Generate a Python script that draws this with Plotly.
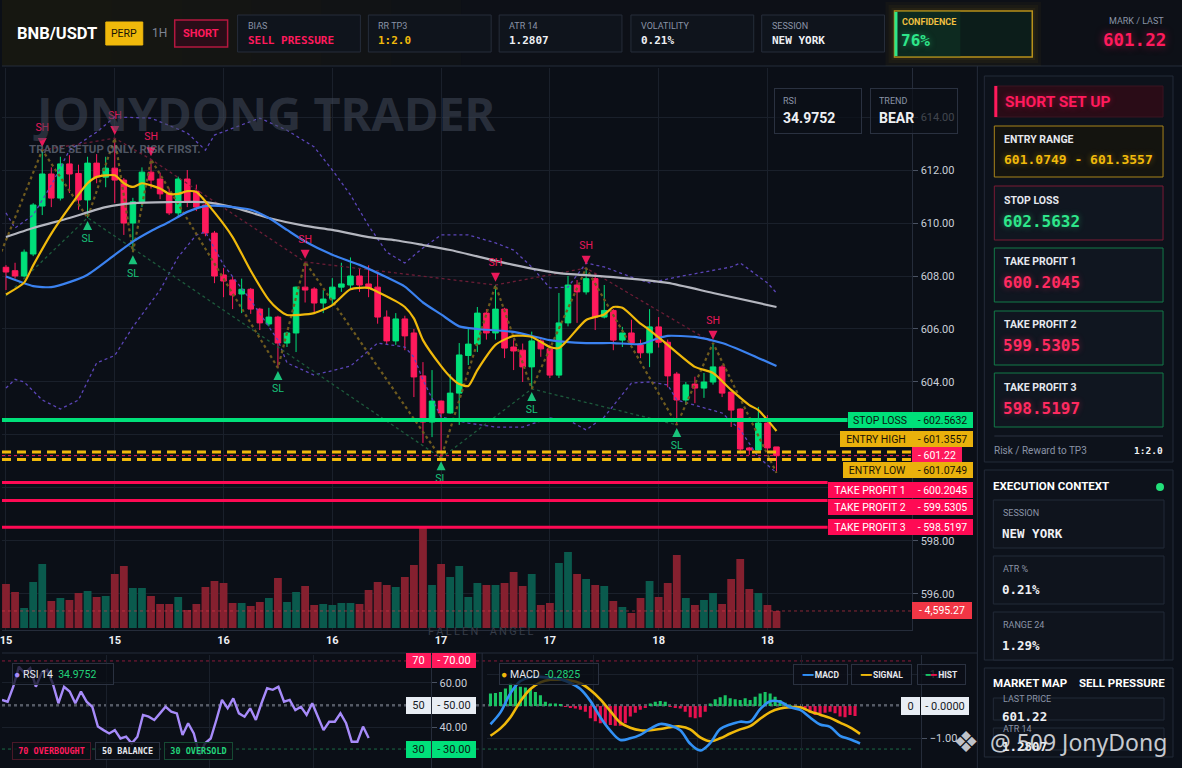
"""
BNB/USDT 1H short-setup dashboard, redrawn with Plotly.
Candles + MAs + bands + volume, RSI and MACD panels, setup side panel.
"""

import plotly.graph_objects as go

# -----------------------------------------------------------------------
# Canvas / colours
# -----------------------------------------------------------------------
W, H = 1182, 768
BG = "#0b0f17"
EDGE = "#252c3a"
GRID = "#1a202b"
TXT = "#c9ced8"
DIM = "#8a93a6"
GREEN = "#00e07a"
RED = "#ff1a5c"
GOLD = "#f0b90b"
SANS = "Roboto"
MONO = "DejaVu Sans Mono"
NONE = "rgba(0,0,0,0)"

# -----------------------------------------------------------------------
# Price data (1H bars, index 0 = first visible bar)
# -----------------------------------------------------------------------
candle_idx = list(range(86))
opens = [608.33, 608.2, 608.0, 608.83, 610.64, 611.85, 610.94, 612.23, 611.87, 610.87,
         612.26, 611.73, 612.07, 611.62, 610.0, 610.8, 611.92, 611.66, 611.1, 610.38,
         611.66, 611.2, 610.68, 609.62, 608.04, 607.85, 607.32, 607.5, 606.75, 606.19,
         606.45, 605.47, 605.85, 607.58, 607.51, 606.98, 607.13, 607.58, 607.66, 608.0,
         607.7, 607.58, 606.45, 605.55, 606.38, 605.85, 604.23, 602.49, 603.28, 602.83,
         603.58, 605.0, 605.43, 606.6, 605.85, 606.75, 605.32, 605.2, 604.57, 605.55,
         605.25, 604.26, 606.23, 607.66, 607.4, 607.9, 606.45, 606.7, 605.58, 605.85,
         605.4, 605.1, 606.08, 605.5, 604.3, 603.32, 603.92, 603.77, 604.0, 604.57,
         603.62, 602.98, 601.51, 601.43, 602.45, 601.55]
highs = [608.41, 608.5, 609.0, 610.75, 612.75, 612.1, 612.5, 612.56, 612.2, 612.5,
         612.6, 612.5, 613.2, 611.7, 610.95, 612.1, 612.4, 611.9, 611.3, 611.75,
         612.0, 611.45, 610.8, 609.7, 608.3, 607.96, 607.9, 607.55, 606.8, 606.8,
         606.5, 605.9, 607.6, 608.53, 607.58, 607.47, 607.92, 608.5, 608.7, 608.3,
         608.4, 608.15, 606.7, 606.6, 606.5, 606.0, 604.75, 604.45, 603.3, 604.3,
         605.47, 606.04, 606.83, 606.75, 607.66, 606.8, 605.6, 605.45, 605.9, 605.7,
         605.4, 607.36, 608.0, 607.85, 608.3, 608.1, 607.66, 606.75, 606.08, 606.35,
         605.6, 606.75, 606.45, 605.6, 604.38, 604.0, 604.2, 604.34, 605.47, 604.64,
         603.62, 603.0, 601.55, 603.06, 602.75, 601.55]
lows = [607.47, 607.9, 607.95, 608.75, 610.3, 610.6, 610.85, 611.13, 610.5, 610.2,
        611.5, 611.35, 610.75, 609.55, 608.9, 610.6, 611.3, 610.9, 610.3, 610.27,
        610.6, 610.45, 609.5, 607.73, 607.2, 606.75, 606.6, 606.57, 605.96, 606.1,
        604.53, 605.32, 605.13, 607.0, 606.64, 606.6, 606.9, 607.4, 607.5, 607.4,
        607.2, 606.2, 605.4, 605.4, 605.2, 603.43, 601.7, 601.92, 601.13, 602.8,
        602.38, 604.64, 605.13, 605.6, 605.6, 604.9, 604.45, 604.0, 603.74, 604.95,
        604.15, 604.15, 606.1, 606.23, 607.3, 605.96, 606.4, 605.2, 605.32, 605.3,
        604.9, 604.56, 605.3, 603.8, 602.38, 603.13, 603.2, 603.4, 603.9, 603.43,
        602.3, 601.3, 601.25, 601.4, 601.4, 600.57]
closes = [608.15, 608.0, 608.9, 610.68, 611.85, 610.94, 612.23, 611.85, 610.87, 612.26,
          611.73, 612.07, 611.62, 610.0, 610.8, 611.92, 611.62, 611.1, 610.38, 611.66,
          610.79, 610.6, 609.62, 608.0, 607.81, 607.28, 607.5, 606.75, 606.23, 606.45,
          605.47, 605.85, 607.58, 607.47, 606.98, 607.13, 607.58, 607.7, 608.0, 607.66,
          607.55, 606.45, 605.55, 606.38, 605.74, 604.19, 602.49, 603.28, 602.83, 603.58,
          605.02, 605.43, 606.6, 605.85, 606.75, 605.28, 605.17, 604.57, 605.55, 605.25,
          604.26, 606.23, 607.66, 607.4, 607.9, 606.45, 606.7, 605.58, 605.85, 605.47,
          605.1, 606.08, 605.5, 604.23, 603.32, 603.89, 603.77, 604.0, 604.57, 603.58,
          602.94, 601.47, 601.43, 602.45, 601.51, 601.22]
volumes = [11880, 9720, 5400, 12420, 17280, 7290, 8100, 7560, 9450, 9990,
           8370, 8640, 14580, 16740, 10800, 10800, 8640, 6480, 6480, 8370,
           4860, 6480, 11070, 12690, 12150, 6750, 6750, 5940, 7020, 8100,
           13500, 7020, 9720, 11340, 6210, 6480, 6210, 6750, 6750, 6480,
           10260, 12420, 11610, 11070, 13770, 17010, 27270, 11610, 17280, 13770,
           16740, 8370, 12150, 11610, 11610, 12150, 15120, 11340, 14580, 6210,
           6750, 17550, 20520, 14580, 13230, 11610, 11340, 7290, 5670, 4050,
           8100, 12690, 8370, 12150, 19710, 8100, 6210, 7560, 9450, 6480,
           13230, 18630, 10530, 9450, 6210, 4595.27]

x_tick_idx = [0, 12, 24, 36, 48, 60, 72, 84]
x_tick_text = ["15", "15", "16", "16", "17", "17", "18", "18"]
price_ticks = [596, 598, 600, 602, 604, 606, 608, 610, 612, 614]

# moving averages
ema_fast_idx = [0, 2, 3, 5, 7, 9, 10, 12, 13, 14, 15, 17, 18, 19, 20, 21, 23, 25, 27, 29,
                30, 31, 34, 36, 38, 40, 41, 43, 44, 45, 46, 48, 49, 50, 51, 52, 54, 56, 58, 60,
                61, 62, 64, 66, 67, 68, 70, 71, 73, 76, 78, 80, 82, 83, 84, 85]
ema_fast_val = [607.3, 607.75, 608.4, 609.6, 610.6, 611.5, 611.74, 611.8, 611.5, 611.36,
                611.5, 611.3, 611.1, 611.1, 611.2, 611.17, 610.4, 609.47, 608.2, 607.1,
                606.75, 606.53, 606.6, 606.9, 607.5, 607.55, 607.4, 607.05, 606.83, 606.4,
                605.58, 604.6, 604.2, 603.92, 603.85, 604.45, 605.4, 605.74, 605.7, 605.32,
                605.28, 605.6, 606.34, 606.55, 606.83, 606.8, 606.2, 605.96, 605.4, 604.57,
                604.34, 603.7, 603.13, 602.94, 602.57, 602.15]
ma_mid_idx = [0, 3, 5, 7, 9, 12, 14, 16, 18, 20, 22, 24, 27, 29, 31, 33, 36, 39, 42, 44,
              46, 48, 50, 52, 56, 60, 64, 67, 70, 72, 73, 76, 79, 82, 85]
ma_mid_val = [607.98, 607.62, 607.58, 607.77, 608.05, 608.8, 609.3, 609.7, 610.04, 610.42,
              610.64, 610.64, 610.5, 610.19, 609.74, 609.3, 608.8, 608.42, 607.95, 607.6,
              607.0, 606.55, 606.1, 606.0, 605.89, 605.58, 605.47, 605.47, 605.43, 605.66,
              605.74, 605.7, 605.47, 605.06, 604.6]
ma_slow_idx = [0, 3, 7, 11, 14, 18, 22, 25, 29, 33, 36, 40, 43, 46, 49, 56, 61, 67, 73, 78, 85]
ma_slow_val = [609.47, 609.81, 610.19, 610.6, 610.75, 610.79, 610.79, 610.6, 610.19, 609.89,
               609.74, 609.47, 609.35, 609.17, 608.98, 608.42, 608.11, 607.96, 607.74, 607.36,
               606.83]
band_up_idx = [0, 1, 3, 5, 7, 10, 12, 16, 20, 22, 23, 28, 31, 34, 36, 38, 40, 42, 44, 46,
               48, 51, 54, 56, 58, 60, 62, 64, 66, 69, 71, 74, 77, 80, 81, 84, 85]
band_up_val = [610.38, 609.81, 610.3, 611.43, 612.75, 613.43, 614.0, 613.96, 613.4, 612.75,
               613.32, 613.96, 613.5, 612.87, 612.0, 611.06, 609.9, 608.9, 608.49, 609.06,
               609.55, 609.55, 609.25, 608.98, 608.34, 607.55, 607.58, 608.49, 608.34, 607.96,
               607.74, 607.96, 608.15, 608.34, 608.49, 607.74, 607.36]
band_lo_idx = [0, 1, 2, 4, 6, 8, 10, 12, 14, 17, 19, 21, 22, 24, 27, 30, 31, 34, 38, 41,
               44, 45, 46, 48, 51, 54, 57, 60, 62, 64, 66, 69, 71, 73, 74, 77, 79, 81, 83, 85]
band_lo_val = [603.77, 604.1, 604.0, 603.32, 602.98, 603.32, 604.72, 605.0, 606.08, 607.47,
               608.72, 609.55, 609.66, 608.42, 607.09, 605.58, 604.72, 604.26, 604.6, 605.47,
               605.32, 604.94, 604.08, 602.68, 602.45, 602.3, 602.3, 602.64, 602.57, 602.19,
               602.68, 603.96, 604.0, 603.89, 603.32, 603.02, 602.83, 602.19, 601.17, 600.57]

# swing structure
swing_high_idx = [4, 12, 16, 33, 54, 64, 78]
swing_low_idx = [9, 14, 30, 48, 58, 74]
zigzag_idx = [-1, 4, 9, 12, 14, 16, 30, 33, 48, 54, 58, 64, 74, 78, 85]
zigzag_val = [608.5, 612.75, 610.2, 613.2, 608.9, 612.4, 604.53, 608.53, 601.13, 607.66,
              603.74, 608.3, 602.38, 605.47, 600.57]
support_idx = [0, 9, 48, 58, 74]
support_val = [607.25, 610.2, 601.13, 603.74, 602.38]

# trade levels
STOP_LOSS = 602.5632
ENTRY_HIGH = 601.3557
LAST_PRICE = 601.22
ENTRY_LOW = 601.0749
TP1, TP2, TP3 = 600.2045, 599.5305, 598.5197
LAST_VOLUME = 4595.27

# oscillators
rsi_vals = [52.3, 51.5, 58.3, 67.4, 64.4, 66.7, 58.3, 64.4, 65.9, 59.8,
            50.8, 58.3, 56.1, 50.8, 56.1, 51.5, 49.2, 40.2, 38.6, 37.1,
            38.6, 34.8, 35.6, 32.6, 35.6, 45.5, 44.7, 43.2, 46.2, 49.2,
            47.0, 46.2, 36.4, 41.7, 37.1, 27.3, 32.6, 34.8, 43.2, 52.3,
            48.5, 53.0, 46.2, 44.7, 48.5, 43.2, 50.8, 57.6, 56.9, 58.3,
            51.5, 52.3, 47.7, 49.2, 45.5, 50.8, 44.7, 38.6, 42.4, 42.4,
            46.2, 41.7, 33.3, 33.3, 40.2, 34.98]
macd_hist = [0.39, 0.41, 0.44, 0.55, 0.70, 0.65, 0.60, 0.58, 0.55, 0.44,
             0.34, 0.13, 0.08, 0.08, 0.05, -0.02, -0.05, -0.08, -0.12, -0.18,
             -0.38, -0.48, -0.54, -0.56, -0.59, -0.62, -0.62, -0.54, -0.33, -0.21,
             -0.12, -0.04, 0.08, 0.13, 0.16, 0.13, -0.02, -0.04, -0.08, -0.18,
             -0.35, -0.38, -0.35, -0.18, 0.08, 0.21, 0.27, 0.34, 0.24, 0.21,
             0.19, 0.24, 0.19, 0.29, 0.39, 0.44, 0.39, 0.29, 0.19, 0.10,
             0.03, -0.04, -0.07, -0.12, -0.21, -0.28, -0.28, -0.21, -0.18, -0.23,
             -0.33, -0.35, -0.28, -0.31]
macd_line = [-0.57, -0.20, 0.40, 0.78, 0.90, 0.91, 0.88, 0.84, 0.72, 0.53,
             0.16, -0.35, -0.77, -1.06, -1.01, -0.90, -0.71, -0.56, -0.61, -0.76,
             -1.18, -1.39, -1.16, -0.72, -0.58, -0.49, -0.49, -0.10, 0.15, 0.13,
             -0.04, -0.12, -0.36, -0.58, -0.65, -0.93, -1.04, -1.17]
macd_signal = [-0.93, -0.70, -0.35, 0.15, 0.53, 0.74, 0.82, 0.82, 0.80, 0.71,
               0.50, 0.21, -0.16, -0.52, -0.68, -0.76, -0.76, -0.72, -0.66, -0.64,
               -0.73, -0.98, -1.10, -1.01, -0.86, -0.73, -0.63, -0.40, -0.19, -0.08,
               -0.04, -0.04, -0.17, -0.27, -0.37, -0.52, -0.67, -0.87]
macd_line_idx = [2 * k for k in range(len(macd_line))]


# -----------------------------------------------------------------------
# helpers (pixel -> paper)
# -----------------------------------------------------------------------
def px(x):
    return x / W


def py(y):
    return 1 - y / H


shapes, notes = [], []


def rect(x0, y0, x1, y1, fill=NONE, edge=EDGE, lw=1):
    shapes.append(dict(type="rect", xref="paper", yref="paper", x0=px(x0), x1=px(x1),
                       y0=py(y1), y1=py(y0), fillcolor=fill,
                       line=dict(color=edge, width=lw), layer="above"))


def seg(x0, y0, x1, y1, color=EDGE, lw=1):
    shapes.append(dict(type="line", xref="paper", yref="paper", x0=px(x0), x1=px(x1),
                       y0=py(y0), y1=py(y1), line=dict(color=color, width=lw), layer="above"))


def text(x, y, s, size=10, color=TXT, family=SANS, anchor="left", weight="normal", shadow=None):
    f = dict(size=size, color=color, family=family, weight=weight)
    if shadow:
        f["shadow"] = shadow
    notes.append(dict(xref="paper", yref="paper", x=px(x), y=py(y), text=s, showarrow=False,
                      xanchor=anchor, yanchor="middle", font=f))


def tag(x0, x1, y, s, bg, fg, yref="paper", yshift=0, size=10.5, family=SANS, h=16,
        align="center", border=None, weight="normal"):
    notes.append(dict(xref="paper", x=px(x0), xanchor="left", yref=yref,
                      y=py(y) if yref == "paper" else y, yanchor="middle", yshift=yshift,
                      text=s, showarrow=False, width=x1 - x0, height=h, align=align,
                      bgcolor=bg, bordercolor=border or bg, borderwidth=1 if border else 0,
                      borderpad=0, font=dict(size=size, color=fg, family=family, weight=weight)))


def level(price, color, width, dash, x1, yref="y2", layer="above"):
    shapes.append(dict(type="line", xref="x domain", x0=0, x1=x1, yref=yref, y0=price, y1=price,
                       line=dict(color=color, width=width, dash=dash), layer=layer))


# -----------------------------------------------------------------------
# traces
# -----------------------------------------------------------------------
fig = go.Figure()

up = [c >= o for o, c in zip(opens, closes)]
fig.add_bar(x=candle_idx, y=volumes, width=0.86, xaxis="x", yaxis="y",
            marker=dict(color=["#0a5a4d" if u else "#85202f" for u in up], line_width=0),
            hoverinfo="skip")

# dotted structure lines
dotted = [
    (band_up_idx, band_up_val, "#5b45b8", 1.3),
    (band_lo_idx, band_lo_val, "#5b45b8", 1.3),
    (support_idx, support_val, "#1d5a3c", 1.3),
    (swing_high_idx, [highs[i] for i in swing_high_idx], "#6b1d36", 1.3),
    (zigzag_idx, zigzag_val, "#6e5a1e", 2.2),
]
for xs, ys, col, lw in dotted:
    fig.add_scatter(x=xs, y=ys, mode="lines", xaxis="x", yaxis="y2", hoverinfo="skip",
                    line=dict(color=col, width=lw, dash="dot"))

fig.add_trace(go.Candlestick(
    x=candle_idx, open=opens, high=highs, low=lows, close=closes, xaxis="x", yaxis="y2",
    increasing=dict(line=dict(color=GREEN, width=1), fillcolor=GREEN),
    decreasing=dict(line=dict(color=RED, width=1), fillcolor=RED),
    whiskerwidth=0, hoverinfo="skip"))

for xs, ys, col in [(ma_slow_idx, ma_slow_val, "#b4b6bf"),
                    (ma_mid_idx, ma_mid_val, "#3b82f0"),
                    (ema_fast_idx, ema_fast_val, GOLD)]:
    fig.add_scatter(x=xs, y=ys, mode="lines", xaxis="x", yaxis="y2", hoverinfo="skip",
                    line=dict(color=col, width=2.2, shape="spline", smoothing=0.6))

# swing labels: arrow tip just off the wick (the arrow body trails away from
# the tip), tag text beyond it
for idx, ref, sign, sym, lab, col in [
        (swing_high_idx, highs, 1, "arrow-down", "SH", "#e8185a"),
        (swing_low_idx, lows, -1, "arrow-up", "SL", "#19c27a")]:
    fig.add_scatter(x=idx, y=[ref[i] + sign * 0.12 for i in idx], mode="markers",
                    marker=dict(symbol=sym, size=9, color=col),
                    xaxis="x", yaxis="y2", hoverinfo="skip")
    fig.add_scatter(x=idx, y=[ref[i] + sign * 0.82 for i in idx], mode="text",
                    text=[lab] * len(idx), textposition="middle center",
                    textfont=dict(color=col, size=10.5, family=SANS),
                    xaxis="x", yaxis="y2", hoverinfo="skip")

# RSI panel
fig.add_scatter(x=list(range(len(rsi_vals))), y=rsi_vals, mode="lines", xaxis="x3", yaxis="y3",
                line=dict(color="#a78bfa", width=2.4), hoverinfo="skip")

# MACD panel
fig.add_bar(x=list(range(len(macd_hist))), y=macd_hist, width=0.62, xaxis="x4", yaxis="y4",
            marker=dict(color=["#19c463" if v >= 0 else "#e8104f" for v in macd_hist], line_width=0),
            hoverinfo="skip")
fig.add_scatter(x=macd_line_idx, y=macd_signal, mode="lines", xaxis="x4", yaxis="y4",
                line=dict(color=GOLD, width=2.6, shape="spline"), hoverinfo="skip")
fig.add_scatter(x=macd_line_idx, y=macd_line, mode="lines", xaxis="x4", yaxis="y4",
                line=dict(color="#3291f5", width=2.6, shape="spline"), hoverinfo="skip")

# -----------------------------------------------------------------------
# price levels
# -----------------------------------------------------------------------
level(STOP_LOSS, GREEN, 4, "solid", 847 / 912)
level(ENTRY_HIGH, GOLD, 3, "9px,6px", 1)
level(ENTRY_LOW, GOLD, 3, "9px,6px", 1)
level(LAST_PRICE, RED, 1, "3px,3px", 1)
for tp in (TP1, TP2, TP3):
    level(tp, "#ff0a54", 3, "solid", 827 / 912)
level(LAST_VOLUME, "rgba(240,60,80,0.55)", 1, "3px,3px", 1, yref="y")

DARK_TXT = "#0b1510"
tag(847, 911, STOP_LOSS, "STOP LOSS", GREEN, DARK_TXT, yref="y2")
tag(912, 973, STOP_LOSS, "- 602.5632", GREEN, DARK_TXT, yref="y2")
tag(839, 911, ENTRY_HIGH, "ENTRY HIGH", "#e9b10c", "#1a1405", yref="y2", yshift=13)
tag(912, 973, ENTRY_HIGH, "- 601.3557", "#e9b10c", "#1a1405", yref="y2", yshift=13)
tag(912, 962, LAST_PRICE, "- 601.22", RED, "#ffffff", yref="y2", yshift=1)
tag(842, 911, ENTRY_LOW, "ENTRY LOW", "#e9b10c", "#1a1405", yref="y2", yshift=-11)
tag(912, 973, ENTRY_LOW, "- 601.0749", "#e9b10c", "#1a1405", yref="y2", yshift=-11)
for tp, name, val, sh in [(TP1, "TAKE PROFIT 1", "- 600.2045", -7),
                          (TP2, "TAKE PROFIT 2", "- 599.5305", -7),
                          (TP3, "TAKE PROFIT 3", "- 598.5197", 0)]:
    tag(827, 911, tp, name, "#ff0a54", "#ffffff", yref="y2", yshift=sh)
    tag(912, 973, tp, val, "#ff0a54", "#ffffff", yref="y2", yshift=sh)
tag(912, 972, LAST_VOLUME, "- 4,595.27", "#f23645", "#ffffff", yref="y", h=17)

# chart watermarks (semi-transparent so marks beneath still show)
text(29, 113, "JONYDONG TRADER", size=47, color="rgba(66,74,90,0.55)", family="Noto Sans",
     weight="bold")
text(25, 149, "TRADE SETUP ONLY. RISK FIRST.", size=11.5, color="rgba(120,128,144,0.65)",
     weight="bold")
text(425, 631, "F\u2009A\u2009L\u2009L\u2009E\u2009N\u2003A\u2009N\u2009G\u2009E\u2009L",
     size=11, color="#363c48")

# RSI / TREND boxes top right of chart
for x0, lab, val in [(773, "RSI", "34.9752"), (869, "TREND", "BEAR")]:
    notes.append(dict(xref="paper", yref="paper", x=px(x0), y=py(88), xanchor="left",
                      yanchor="top", showarrow=False, width=70, height=28, align="left",
                      borderpad=8, bgcolor="rgba(11,15,23,0.72)", bordercolor="#2a3140",
                      borderwidth=1,
                      text=f"<span style='font-size:9px;color:{DIM}'>{lab}</span><br>"
                           f"<b>{val}</b>",
                      font=dict(size=14, color="#eef0f4", family=SANS)))

# -----------------------------------------------------------------------
# header bar
# -----------------------------------------------------------------------
rect(0, 0, W, 66, fill="#0d1017", edge=NONE, lw=0)
for k in range(6):
    rect(0, 0, 460 - 70 * k, 66, fill="rgba(52,46,20,0.06)", edge=NONE, lw=0)
seg(0, 66, W, 66)

text(13, 33, "BNB/USDT", size=16.5, color="#ffffff", weight="bold")
rect(104, 22, 141, 45, fill=GOLD, edge=GOLD)
text(122.5, 33.5, "PERP", size=10.5, color="#1a1405", anchor="center")
text(148, 33, "1H", size=12, color="#7d8494")
rect(173, 20, 226, 47, fill="#2a0d18", edge="#b4173f", lw=1.5)
text(199.5, 33.5, "SHORT", size=11, color=RED, anchor="center", weight="bold")

for x0, lab, val, col in [(236, "BIAS", "SELL PRESSURE", RED),
                          (367, "RR TP3", "1:2.0", GOLD),
                          (498, "ATR 14", "1.2807", "#eef0f4"),
                          (630, "VOLATILITY", "0.21%", "#eef0f4"),
                          (761, "SESSION", "NEW YORK", "#eef0f4")]:
    rect(x0, 15, x0 + 123, 52, fill="#0f141c", edge="#262d3a")
    text(x0 + 8, 26, lab, size=9, color=DIM)
    text(x0 + 8, 41, val, size=11, color=col, family=MONO, weight="bold")

for k, a in enumerate([0.03, 0.04, 0.05]):
    g = 9 - 3 * k
    rect(894 - g, 11 - g, 1032 + g, 57 + g, fill=f"rgba(240,185,11,{a})", edge=NONE, lw=0)
rect(894, 11, 1032, 57, fill="#0c1d1a", edge="#b8901a", lw=1.5)
rect(894, 11, 960, 57, fill="rgba(20,90,55,0.22)", edge=NONE, lw=0)
rect(894, 12, 897, 56, fill="#2ee68a", edge=NONE, lw=0)
text(900, 22, "CONFIDENCE", size=9, color="#f0c040", weight="bold")
text(899, 40, "76%", size=16, color="#2ee68a", family=MONO, weight="bold",
     shadow="0px 0px 6px rgba(46,230,138,0.5)")
text(1166, 21, "MARK / LAST", size=9, color=DIM, anchor="right")
text(1168, 40, "601.22", size=17.5, color=RED, family=MONO, weight="bold", anchor="right",
     shadow="0px 0px 8px rgba(255,26,92,0.55)")

# -----------------------------------------------------------------------
# panel frames
# -----------------------------------------------------------------------
seg(977, 66, 977, H)
seg(0, 653, 977, 653)
seg(481, 653, 481, H)
rect(978, 67, W, H, fill="#0b1019", edge=NONE, lw=0)

# short setup card
rect(984, 76, 1173, 462, fill="#0d121b", edge="#232a38")
rect(994, 86, 1163, 117, fill="#2a0c17", edge="#3a1522")
rect(994, 86, 997, 117, fill=RED, edge=NONE, lw=0)
text(1003, 101.5, "SHORT SET UP", size=15.5, color=RED, weight="bold",
     shadow="0px 0px 6px rgba(255,26,92,0.45)")

rect(994, 126, 1163, 177, fill="#14140f", edge="#a8841a")
text(1002, 140, "ENTRY RANGE", size=10.5, color="#e6e8ee", weight="bold")
text(1002, 159, "601.0749 - 601.3557", size=13, color=GOLD, family=MONO, weight="bold",
     shadow="0px 0px 6px rgba(240,185,11,0.45)")

for y0, lab, val, edge_c, col, glow in [
        (186, "STOP LOSS", "602.5632", "#7a1a35", "#2ee68a", "rgba(46,230,138,0.45)"),
        (248, "TAKE PROFIT 1", "600.2045", "#137a48", "#ff2a60", "rgba(255,42,96,0.45)"),
        (311, "TAKE PROFIT 2", "599.5305", "#137a48", "#ff2a60", "rgba(255,42,96,0.45)"),
        (373, "TAKE PROFIT 3", "598.5197", "#137a48", "#ff2a60", "rgba(255,42,96,0.45)")]:
    rect(994, y0, 1163, y0 + 54, fill="#101620", edge=edge_c)
    text(1002, y0 + 14, lab, size=10.5, color="#e6e8ee", weight="bold")
    text(1001, y0 + 35, val, size=16, color=col, family=MONO, weight="bold",
         shadow=f"0px 0px 6px {glow}")

seg(994, 436, 1163, 436, color="#2a3140")
text(992, 450, "Risk / Reward to TP3", size=10, color=DIM)
text(1165, 450, "1:2.0", size=9.5, color="#eef0f4", family=MONO, weight="bold", anchor="right")

# execution context
rect(984, 470, 1173, 660, fill="#0d121b", edge="#232a38")
text(991, 486, "EXECUTION CONTEXT", size=11.5, color="#ffffff", weight="bold")
shapes.append(dict(type="circle", xref="paper", yref="paper", x0=px(1156), x1=px(1164),
                   y0=py(491), y1=py(483), fillcolor="#22e07a", line=dict(width=0), layer="above"))
for y0, lab, val in [(500, "SESSION", "NEW YORK"), (556, "ATR %", "0.21%"), (612, "RANGE 24", "1.29%")]:
    rect(993, y0, 1164, y0 + 48, fill="#0f141d", edge="#232a38")
    text(1001, y0 + 13, lab, size=9, color=DIM)
    text(1000, y0 + 33, val, size=12.5, color="#eef0f4", family=MONO, weight="bold")

# market map
rect(984, 668, 1173, 757, fill="#0d121b", edge="#232a38")
text(991, 683, "MARKET MAP", size=11.5, color="#ffffff", weight="bold")
text(1167, 683, "SELL PRESSURE", size=11.5, color="#ffffff", weight="bold", anchor="right")
for y0, lab, val in [(698, "LAST PRICE", "601.22"), (728, "ATR 14", "1.2807")]:
    rect(993, y0, 1164, y0 + 22, fill="#0f141d", edge="#232a38")
    text(1001, y0 + 1, lab, size=9, color=DIM)
    text(1000, y0 + 18, val, size=12.5, color="#eef0f4", family=MONO, weight="bold")

# -----------------------------------------------------------------------
# RSI / MACD labels
# -----------------------------------------------------------------------
notes.append(dict(xref="paper", yref="paper", x=px(10), y=py(674), xanchor="left",
                  yanchor="middle", showarrow=False, width=98, height=18, align="left",
                  bgcolor="rgba(11,15,23,0.75)", bordercolor="#2a3140", borderwidth=1,
                  text="<span style='color:#a78bfa'>\u25cf</span> RSI 14  "
                       "<span style='color:#22d37a'>34.9752</span>",
                  font=dict(size=10.5, color="#e6e8ee", family=SANS)))
for x0, x1, s, col, edge_c in [(10, 87, "70 OVERBOUGHT", RED, "#4a1828"),
                               (93, 156, "50 BALANCE", "#e6e8ee", "#2a3140"),
                               (162, 229, "30 OVERSOLD", "#22d37a", "#164a33")]:
    tag(x0, x1, 751, s, "rgba(11,15,23,0.8)", col, size=8.5, family=MONO, h=16,
        border=edge_c, weight="bold")

tag(405, 430, 70, "70", RED, "#ffffff", yref="y3", h=15, size=11)
tag(431, 475, 70, "- 70.00", RED, "#ffffff", yref="y3", h=15, size=11)
tag(405, 430, 50, "50", "#e8edf4", "#151a24", yref="y3", h=17, size=11)
tag(431, 475, 50, "- 50.00", "#e8edf4", "#151a24", yref="y3", h=17, size=11)
tag(405, 430, 30, "30", GREEN, "#0b1510", yref="y3", h=17, size=11)
tag(431, 475, 30, "- 30.00", GREEN, "#0b1510", yref="y3", h=17, size=11)

level(70, "#8a1a3a", 1, "3px,3px", 1, yref="y3", layer="below")
level(50, "#9aa0ab", 1, "3px,3px", 1, yref="y3", layer="below")
level(30, "#1c6a45", 1, "3px,3px", 1, yref="y3", layer="below")
level(0, "#5a6070", 1, "3px,3px", 1, yref="y4", layer="below")

notes.append(dict(xref="paper", yref="paper", x=px(498), y=py(674), xanchor="left",
                  yanchor="middle", showarrow=False, width=96, height=18, align="left",
                  bgcolor="rgba(11,15,23,0.75)", bordercolor="#2a3140", borderwidth=1,
                  text="<span style='color:#f0b90b'>\u25cf</span> MACD  "
                       "<span style='color:#22d37a'>-0.2825</span>",
                  font=dict(size=10.5, color="#e6e8ee", family=SANS)))
for x0, x1, s in [(792, 845, "<span style='color:#3291f5'>\u2501\u2501</span> MACD"),
                  (850, 909, "<span style='color:#f0b90b'>\u2501\u2501</span> SIGNAL"),
                  (917, 964, "<span style='color:#19c463'>\u2501</span>"
                             "<span style='color:#e8104f'>\u2501</span> HIST")]:
    tag(x0, x1, 674, s, "rgba(11,15,23,0.82)", "#e6e8ee", size=8.5, h=19,
        border="#2a3140", weight="bold")
tag(901, 920, 0, "0", "#e8edf4", "#151a24", yref="y4", h=18, size=11)
tag(921, 969, 0, "- 0.0000", "#e8edf4", "#151a24", yref="y4", h=18, size=11)

# corner watermark
text(951, 742, "\u2756", size=29, color="rgba(225,228,234,0.85)", family="DejaVu Sans")
text(988, 742, "@ 509 JonyDong", size=23, color="rgba(225,228,234,0.88)", family="Noto Sans")

# -----------------------------------------------------------------------
# layout
# -----------------------------------------------------------------------
axis_font = dict(size=11, color=TXT, family=SANS)
fig.update_layout(
    width=W, height=H, margin=dict(l=0, r=0, t=0, b=0, pad=0),
    paper_bgcolor=BG, plot_bgcolor=BG, showlegend=False, hovermode=False,
    boxgap=0.12, dragmode=False,
    xaxis=dict(domain=[0, px(912)], range=[-0.44, 100], anchor="y",
               tickvals=x_tick_idx, ticktext=x_tick_text, ticks="", ticklabeloverflow="allow",
               tickfont=dict(size=11, color="#eef0f4", family=SANS, weight="bold"),
               showgrid=True, gridcolor=GRID, zeroline=False, showline=True, linecolor=EDGE,
               rangeslider=dict(visible=False), fixedrange=True),
    yaxis=dict(domain=[py(630), py(68)], range=[-540, 151200], visible=False, fixedrange=True),
    yaxis2=dict(overlaying="y", side="right", anchor="x", range=[594.64, 615.85],
                tickvals=price_ticks, tickformat=".2f", tickfont=axis_font,
                ticks="outside", ticklen=5, tickcolor="#4a5262",
                showgrid=True, gridcolor=GRID, zeroline=False, showline=True, linecolor=EDGE,
                fixedrange=True),
    xaxis3=dict(domain=[0, px(430)], range=[0, 76.1], anchor="y3",
                tickvals=[18.6, 36.8, 55.2], showticklabels=False, ticks="",
                showgrid=True, gridcolor=GRID, zeroline=False, fixedrange=True),
    yaxis3=dict(domain=[0, py(655)], range=[21.4, 72.7], anchor="x3", side="right",
                tickvals=[40, 60], tickformat=".2f", tickfont=axis_font,
                ticks="outside", ticklen=5, tickcolor="#4a5262",
                showgrid=True, gridcolor=GRID, zeroline=False, showline=True, linecolor=EDGE,
                fixedrange=True),
    xaxis4=dict(domain=[px(486), px(921)], range=[-0.66, 86.3], anchor="y4",
                tickvals=[20.7, 41.5, 62.3], showticklabels=False, ticks="",
                showgrid=True, gridcolor=GRID, zeroline=False, fixedrange=True),
    yaxis4=dict(domain=[0, py(655)], range=[-1.9375, 1.594], anchor="x4", side="right",
                tickvals=[-1, 1], tickformat=".2f", tickfont=axis_font,
                ticks="outside", ticklen=5, tickcolor="#4a5262",
                showgrid=True, gridcolor=GRID, zeroline=False, showline=True, linecolor=EDGE,
                fixedrange=True),
    shapes=shapes, annotations=notes,
    font=dict(family=SANS, color=TXT),
)

# page body has an 8px default margin; drop it so the figure sits at (0, 0)
fig.write_html("out.html", config={"displayModeBar": False},
               post_script="document.body.style.margin='0';"
                           "document.body.style.background='#0b0f17';")
